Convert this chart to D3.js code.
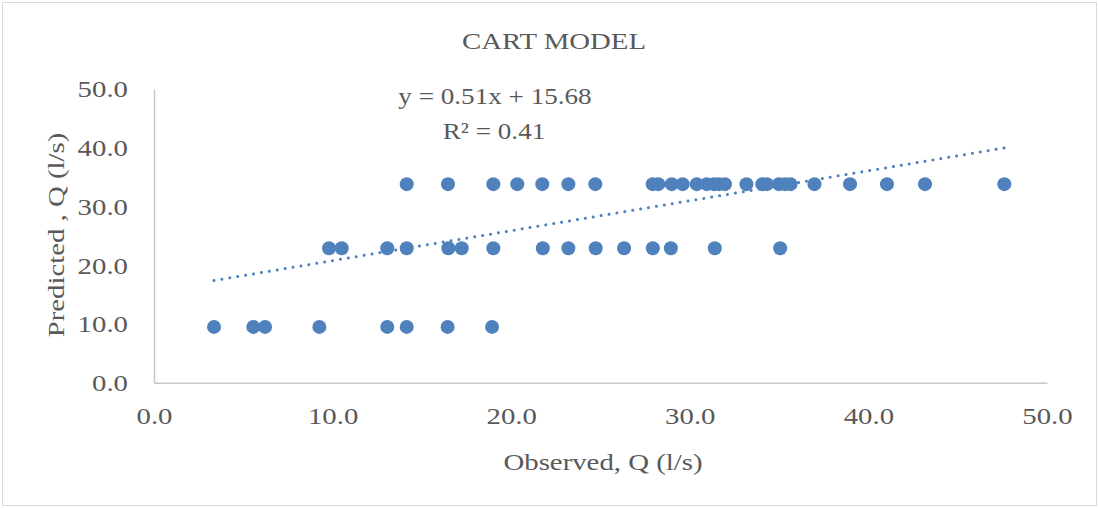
<!DOCTYPE html>
<html>
<head>
<meta charset="utf-8">
<script src="https://cdn.jsdelivr.net/npm/d3@7"></script>
<style>
  html, body { margin: 0; padding: 0; background: #fff; }
  svg { display: block; }
  text { font-family: "Liberation Serif", "Times New Roman", serif; fill: #595959; }
</style>
</head>
<body>
<svg id="chart" width="1099" height="508"></svg>
<script>
// Observed vs predicted discharge, grouped by predicted level
const observedLow  = [3.36, 5.56, 6.22, 9.26, 13.06, 14.15, 16.44, 18.93];
const predictedLow = 9.5;
const observedMid  = [9.80, 10.51, 13.06, 14.15, 16.48, 17.23, 19.00, 21.77, 23.20, 24.73,
                      26.32, 27.93, 28.94, 31.40, 35.06];
const predictedMid = 22.9;
const observedHigh = [14.15, 16.46, 19.00, 20.34, 21.74, 23.20, 24.71, 27.92, 28.24, 28.99,
                      29.60, 30.39, 30.95, 31.35, 31.63, 31.97, 33.17, 34.06, 34.32, 34.99,
                      35.33, 35.64, 36.98, 38.97, 41.04, 43.17, 47.61];
const predictedHigh = 33.8;

const xTicks = [0, 10, 20, 30, 40, 50];
const yTicks = [0, 10, 20, 30, 40, 50];

// Linear trend as stated on the chart
const slope = 0.51;
const intercept = 15.68;
const rSquared = 0.41;

const points = [
  ...observedLow.map(x => ({ x, y: predictedLow })),
  ...observedMid.map(x => ({ x, y: predictedMid })),
  ...observedHigh.map(x => ({ x, y: predictedHigh }))
];

const svg = d3.select("#chart");
const W = 1099, H = 508;
const plotL = 154, plotR = 1047, plotT = 89, plotB = 382.7;
const stretch = 1.2;    // horizontal widening of the lettering
const fs = 24;

const x = d3.scaleLinear().domain([0, 50]).range([plotL, plotR]);
const y = d3.scaleLinear().domain([0, 50]).range([plotB, plotT]);
const blue = "#4f81bd";

// outer frame
svg.append("rect")
  .attr("x", 2.5).attr("y", 2.5).attr("width", W - 5).attr("height", H - 5)
  .attr("fill", "#fff").attr("stroke", "#d9d9d9").attr("stroke-width", 1);

// axes
const xAxis = d3.axisBottom(x).tickValues(xTicks).tickSize(0).tickPadding(0)
  .tickFormat(d3.format(".1f"));
const yAxis = d3.axisLeft(y).tickValues(yTicks).tickSize(0).tickPadding(0)
  .tickFormat(d3.format(".1f"));

const gx = svg.append("g").attr("transform", `translate(0,${plotB})`).call(xAxis);
gx.select(".domain").attr("stroke", "#c8c8c8").attr("stroke-width", 1.5);
gx.selectAll(".tick text")
  .attr("font-family", "Liberation Serif").attr("font-size", fs).attr("fill", "#595959")
  .attr("y", 0).attr("dy", 0)
  .attr("transform", `translate(0,41) scale(${stretch},1)`);

const gy = svg.append("g").attr("transform", `translate(${plotL},0)`).call(yAxis);
gy.select(".domain").attr("stroke", "#c8c8c8").attr("stroke-width", 1.5);
gy.selectAll(".tick text")
  .attr("font-family", "Liberation Serif").attr("font-size", fs).attr("fill", "#595959")
  .attr("x", 0).attr("dy", "0.33em").attr("text-anchor", "end")
  .attr("transform", `translate(-26,0) scale(${stretch},1)`);

// trend line over the observed range
const xExt = d3.extent(points, d => d.x);
const trend = xExt.map(v => ({ x: v, y: slope * v + intercept }));
svg.append("path")
  .datum(trend)
  .attr("d", d3.line().x(d => x(d.x)).y(d => y(d.y)))
  .attr("fill", "none").attr("stroke", blue).attr("stroke-width", 3)
  .attr("stroke-linecap", "round").attr("stroke-dasharray", "0.01 8");

// markers
svg.append("g").selectAll("circle")
  .data(points).join("circle")
  .attr("cx", d => x(d.x)).attr("cy", d => y(d.y)).attr("r", 7)
  .attr("fill", blue);

// titles
function label(txt, tx, ty, rot, size, sx) {
  svg.append("text")
    .attr("transform", `translate(${tx},${ty}) rotate(${rot || 0}) scale(${sx || stretch},1)`)
    .attr("text-anchor", "middle").attr("font-size", size || fs)
    .text(txt);
}
label("CART MODEL", 554, 49);
label("Observed, Q (l/s)", 603, 470);
label("Predicted , Q (l/s)", 64, 235, -90);
label(`y = ${slope.toFixed(2)}x + ${intercept.toFixed(2)}`, 495, 104, 0, 23, 1.18);
label(`R² = ${rSquared.toFixed(2)}`, 494, 139, 0, 23, 1.18);
</script>
</body>
</html>
